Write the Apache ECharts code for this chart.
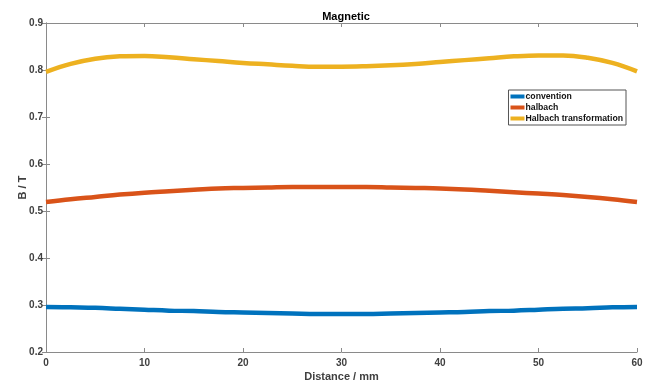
<!DOCTYPE html>
<html>
<head>
<meta charset="utf-8">
<script src="https://cdn.jsdelivr.net/npm/echarts@6/dist/echarts.min.js"></script>
<style>
  html, body { margin: 0; padding: 0; background: #fff; }
  #chart { width: 651px; height: 381px; }
</style>
</head>
<body>
<div id="chart"></div>
<script>
// distance in mm
const distance = [0, 2.5, 5, 7.5, 10, 12.5, 15, 17.5, 20, 22.5, 25, 27.5, 30,
  32.5, 35, 37.5, 40, 42.5, 45, 47.5, 50, 52.5, 55, 57.5, 60];

const convention = [0.296, 0.295, 0.294, 0.292, 0.290, 0.288, 0.287, 0.285, 0.284, 0.283, 0.282, 0.281, 0.281,
  0.281, 0.282, 0.283, 0.284, 0.285, 0.287, 0.288, 0.290, 0.292, 0.293, 0.295, 0.296];

const halbach = [0.519, 0.525, 0.530, 0.535, 0.539, 0.542, 0.545, 0.548, 0.549, 0.550, 0.551, 0.551, 0.551,
  0.551, 0.550, 0.549, 0.548, 0.546, 0.543, 0.540, 0.537, 0.534, 0.530, 0.525, 0.519];

const halbachTrans = [0.796, 0.813, 0.824, 0.829, 0.830, 0.827, 0.823, 0.819, 0.815, 0.812, 0.809, 0.807, 0.807,
  0.808, 0.810, 0.813, 0.817, 0.821, 0.825, 0.829, 0.831, 0.831, 0.826, 0.815, 0.797];

const seriesNames = ['convention', 'halbach', 'Halbach transformation'];
const colors = ['#0072BD', '#D95319', '#EDB120'];

const pairs = (ys) => distance.map((x, i) => [x, ys[i]]);

const font = 'Liberation Sans, Arial, sans-serif';
const axisGray = '#8a8a8a';
const labelColor = '#404040';

const chart = echarts.init(document.getElementById('chart'));

const boxAxis = {
  axisLine: { show: true, lineStyle: { color: axisGray, width: 1 } },
  axisTick: { show: true, inside: true, length: 4, lineStyle: { color: axisGray } },
  splitLine: { show: false }
};

chart.setOption({
  animation: false,
  title: {
    text: 'Magnetic',
    left: 341,
    textAlign: 'center',
    top: 6,
    textStyle: { fontFamily: font, fontSize: 11, fontWeight: 'bold', color: '#000' }
  },
  legend: {
    orient: 'vertical',
    right: 25,
    top: 90,
    data: seriesNames,
    icon: 'rect',
    itemWidth: 14,
    itemHeight: 4,
    itemGap: 2,
    padding: [2, 3, 2, 2],
    borderColor: '#555',
    borderWidth: 1,
    borderRadius: 0,
    textStyle: { fontFamily: font, fontSize: 8.7, fontWeight: 'bold', color: '#111', padding: [0, 0, 0, -4] }
  },
  grid: { left: 46, right: 14, top: 23, bottom: 29, outerBoundsMode: 'none', containLabel: false },
  xAxis: [
    Object.assign({}, boxAxis, {
      type: 'value', min: 0, max: 60, interval: 10, position: 'bottom',
      name: 'Distance / mm', nameLocation: 'middle', nameGap: 19, nameMoveOverlap: false,
      nameTextStyle: { fontFamily: font, fontSize: 11, fontWeight: 'bold', color: labelColor },
      axisLabel: { fontFamily: font, fontSize: 10, fontWeight: 'bold', color: labelColor, margin: 6 }
    }),
    Object.assign({}, boxAxis, {
      type: 'value', min: 0, max: 60, interval: 10, position: 'top',
      axisLabel: { show: false }
    })
  ],
  yAxis: [
    Object.assign({}, boxAxis, {
      type: 'value', min: 0.2, max: 0.9, interval: 0.1, position: 'left',
      name: 'B / T', nameLocation: 'middle', nameGap: 18, nameRotate: 90, nameMoveOverlap: false,
      nameTextStyle: { fontFamily: font, fontSize: 11, fontWeight: 'bold', color: labelColor },
      axisLabel: {
        fontFamily: font, fontSize: 10, fontWeight: 'bold', color: labelColor, margin: 3,
        formatter: (v) => v.toFixed(1)
      }
    }),
    Object.assign({}, boxAxis, {
      type: 'value', min: 0.2, max: 0.9, interval: 0.1, position: 'right',
      axisLabel: { show: false }
    })
  ],
  series: [
    { name: seriesNames[0], data: pairs(convention) },
    { name: seriesNames[1], data: pairs(halbach) },
    { name: seriesNames[2], data: pairs(halbachTrans) }
  ].map((s, i) => Object.assign(s, {
    type: 'line',
    xAxisIndex: 0,
    yAxisIndex: 0,
    smooth: 0.4,
    showSymbol: false,
    color: colors[i],
    lineStyle: { color: colors[i], width: 4.5 }
  }))
});
</script>
</body>
</html>
